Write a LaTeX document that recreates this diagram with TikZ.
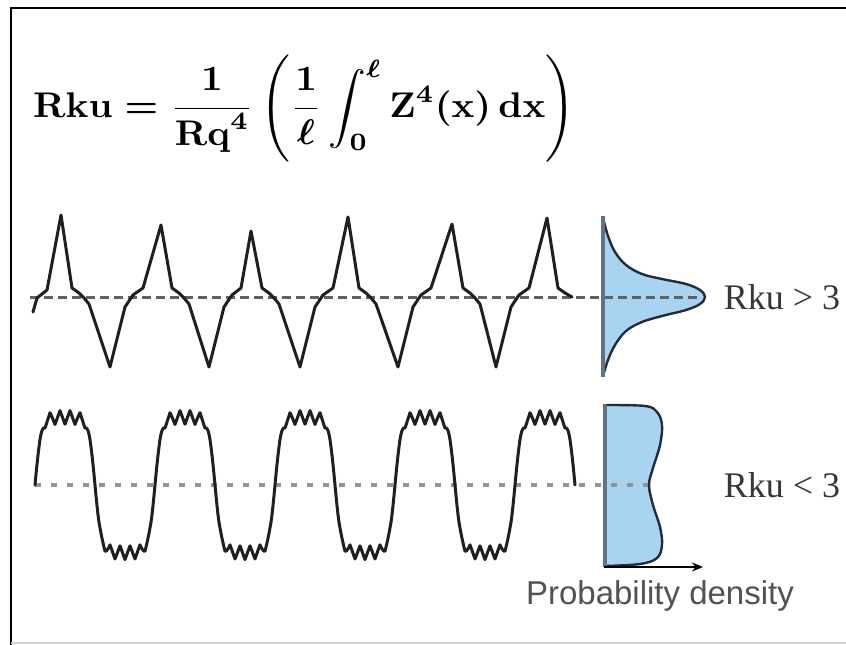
\documentclass[tikz,border=0pt]{standalone}
\usepackage{fontspec}
\usepackage{amsmath}
\usepackage{graphicx}
\usetikzlibrary{arrows.meta}
\newfontfamily\lserif{Liberation Serif}
\newfontfamily\lsans{Liberation Sans}
\definecolor{distfill}{RGB}{168,211,241}
\definecolor{distline}{RGB}{35,45,55}
\definecolor{axisline}{RGB}{95,115,130}
\definecolor{labelgray}{RGB}{55,55,55}
\begin{document}
\begin{tikzpicture}[x=1pt,y=-1pt,
  wavestyle/.style={line width=3pt, line join=round, line cap=round, black!88},
  topbase/.style={line width=3pt, dash pattern=on 9pt off 5pt, black!62},
  botbase/.style={line width=3.2pt, dash pattern=on 6pt off 10pt, black!42},
  distshape/.style={fill=distfill},
  distedge/.style={line width=2.4pt, distline, line join=round},
  axisstyle/.style={line width=3.2pt, axisline},
  lbl/.style={font=\lserif\fontsize{36}{36}\selectfont, text=labelgray, inner sep=0pt},
  declare function={sq(\x)=tanh(3*sin(3*(\x-35)));}
]
\useasboundingbox (0,0) rectangle (846,645);
\fill[white] (0,0) rectangle (846,645);
% frame
\draw[line width=2.5pt] (846,8) -- (11,8) -- (11,645);
\draw[line width=1.5pt, black!18] (11,643) -- (846,643);

% formula
\node[anchor=north west, inner sep=0pt] (formula) at (33,55)
  {\resizebox*{542pt}{107pt}{\boldmath$\displaystyle \mathbf{Rku} = \frac{1}{\mathbf{Rq}^{4}}\left(\frac{1}{\ell}\int_{0}^{\ell}\mathbf{Z}^{4}(\mathbf{x})\,\mathbf{dx}\right)$}};

% distributions (fills)
\fill[distshape] plot[smooth, tension=0.6] coordinates {(603,218) (608,236) (615,252) (626,265) (642,274) (662,279) (686,284) (700,290) (705,297) (700,304) (686,310) (662,316) (642,322) (626,331) (615,345) (608,360) (603,376)} -- cycle;
\fill[distshape] plot[smooth, tension=0.6] coordinates {(605,405) (645,406) (657,412) (662,425) (660,445) (653,468) (649,485) (653,505) (660,527) (662,545) (657,558) (640,564) (605,566)} -- cycle;

% baselines
\coordinate (tb0) at (30,297);
\coordinate (tb1) at (700,297);
\coordinate (bb0) at (35,485);
\coordinate (bb1) at (650,485);
\draw[topbase] (tb0) -- (tb1);
\draw[botbase] (bb0) -- (bb1);

% distribution outlines and axes
\draw[distedge] plot[smooth, tension=0.6] coordinates {(603,218) (608,236) (615,252) (626,265) (642,274) (662,279) (686,284) (700,290) (705,297) (700,304) (686,310) (662,316) (642,322) (626,331) (615,345) (608,360) (603,376)};
\draw[distedge] plot[smooth, tension=0.6] coordinates {(605,405) (645,406) (657,412) (662,425) (660,445) (653,468) (649,485) (653,505) (660,527) (662,545) (657,558) (640,564) (605,566)};
\coordinate (ta0) at (603,216);
\coordinate (ta1) at (603,377);
\draw[axisstyle] (ta0) -- (ta1);
\coordinate (ba0) at (605,404);
\coordinate (ba1) at (605,567);
\draw[axisstyle] (ba0) -- (ba1);
\coordinate (ao) at (604,567);
\coordinate (ae) at (703,567);
\draw[-{Stealth[length=11pt,width=9pt]}, line width=2.4pt] (ao) -- (ae);

% top wave (Rku > 3)
\draw[wavestyle] plot coordinates {
(33,312) (37,298) (47,290) (61,215)
(72,288) (79,293) (84,298) (89,304) (110,367)
(125,307) (133,295) (143,288) (161,225)
(172,288) (179,293) (184,298) (189,304) (209,367)
(224,307) (232,295) (241,288) (251,231)
(262,288) (269,293) (274,298) (279,304) (300,367)
(315,307) (323,295) (333,288) (348,217)
(359,288) (366,293) (371,298) (376,304) (398,367)
(413,307) (421,295) (431,288) (452,224)
(463,288) (470,293) (475,298) (480,304) (496,367)
(511,307) (519,295) (529,288) (547,218)
(558,288) (565,293) (572,297)};

% bottom wave (Rku < 3)
\draw[wavestyle] plot[samples=541, domain=35:575, variable=\x]
  (\x, {485 - 68*sq(\x) - 7*sq(\x)*sq(\x)*sq(\x)*sq(\x)*(abs(mod(\x,10)-5)/2.5-1)});

% labels
\node[lbl] (hi) at (782,297) {Rku > 3};
\node[lbl] (lo) at (782,485) {Rku < 3};
\node[font=\lsans\fontsize{33}{33}\selectfont, text=black!68, inner sep=0pt] (pd) at (660,596) {Probability density};
\end{tikzpicture}
\end{document}
